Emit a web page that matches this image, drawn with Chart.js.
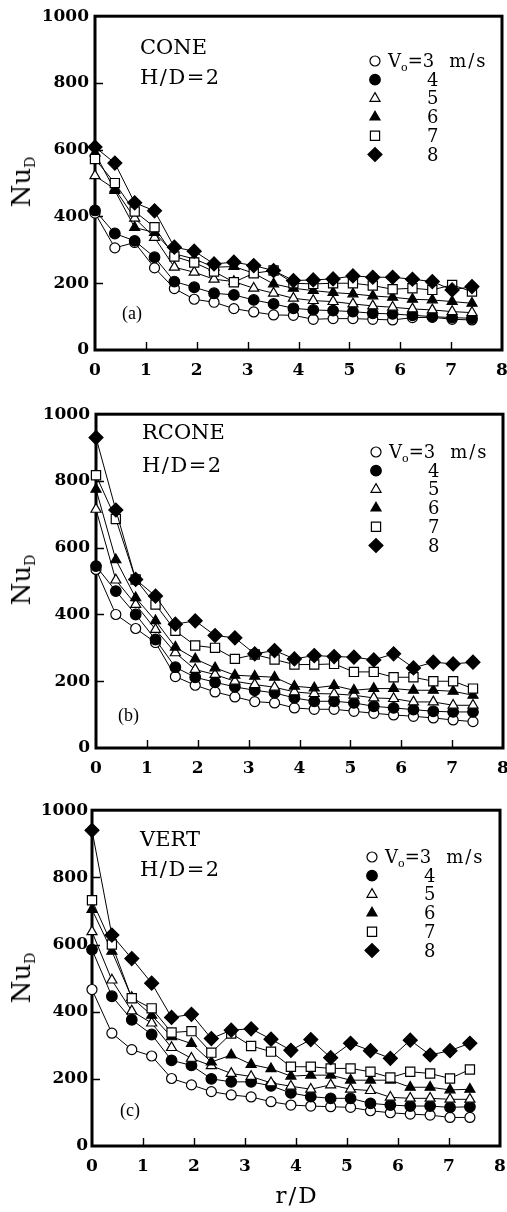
<!DOCTYPE html>
<html><head><meta charset="utf-8">
<script src="https://cdn.jsdelivr.net/npm/chart.js@4/dist/chart.umd.min.js"></script>
<style>
html,body{margin:0;padding:0;background:#fff;}
body{width:507px;height:1212px;overflow:hidden;position:relative;}
.panel{position:absolute;left:0;width:520px;height:390px;}
.panel canvas{position:absolute;left:0;top:0;}
.t{position:absolute;font-family:"DejaVu Serif",serif;color:#000;white-space:nowrap;line-height:1;}
.ttl{font-size:21px;}
.hd{font-size:21px;letter-spacing:1.5px;}
.lg{font-size:18px;}
.sub{font-size:11px;position:relative;top:4px;}
.ms{margin-left:15px;letter-spacing:2px;}
.lab{font-family:"Liberation Serif",serif;font-size:18px;}
.nu{font-size:26px;transform:translate(-50%,-50%) rotate(-90deg);}
.nu .s{font-size:14px;position:relative;top:5px;}
</style></head>
<body>
<div class="panel" id="pa" style="top:0px;"><canvas id="ca" width="520" height="390"></canvas></div>
<div class="panel" id="pb" style="top:398px;"><canvas id="cb" width="520" height="390"></canvas></div>
<div class="panel" id="pc" style="top:796px;"><canvas id="cc" width="520" height="390"></canvas></div>
<div class="t" style="left:297px;top:1184px;font-size:23px;letter-spacing:2px;transform:translateX(-50%);">r/D</div>
<script>
// ---- data ----
const R_D = [0, 0.39, 0.78, 1.17, 1.56, 1.95, 2.34, 2.73, 3.12, 3.51, 3.9, 4.29, 4.68, 5.07, 5.46, 5.85, 6.24, 6.63, 7.02, 7.41];
const SPEEDS = ['3', '4', '5', '6', '7', '8'];
const X_TICKS = [0, 1, 2, 3, 4, 5, 6, 7, 8];
const Y_TICKS = [0, 200, 400, 600, 800, 1000];
const PANEL_NAMES = ['CONE', 'RCONE', 'VERT'];
const PANEL_TAGS = ['(a)', '(b)', '(c)'];

const CONE_V3 = [410, 306, 322, 246, 184, 152, 143, 124, 114, 105, 104, 92, 94, 94, 92, 90, 97, 98, 92, 90];
const CONE_V4 = [418, 349, 327, 278, 205, 188, 170, 165, 150, 138, 125, 120, 118, 115, 110, 108, 104, 100, 97, 95];
const CONE_V5 = [522, 482, 395, 337, 248, 233, 212, 205, 185, 170, 155, 148, 145, 138, 132, 128, 123, 120, 115, 112];
const CONE_V6 = [590, 478, 367, 352, 288, 273, 248, 250, 230, 198, 185, 178, 172, 168, 162, 158, 152, 150, 145, 140];
const CONE_V7 = [572, 500, 415, 368, 280, 262, 235, 203, 230, 238, 200, 198, 200, 200, 193, 182, 185, 180, 195, 175];
const CONE_V8 = [608, 560, 441, 417, 308, 296, 258, 263, 253, 238, 208, 210, 213, 222, 218, 218, 212, 205, 180, 190];

const RCONE_V3 = [535, 400, 358, 316, 214, 188, 168, 153, 139, 135, 120, 116, 116, 110, 104, 99, 95, 90, 84, 79];
const RCONE_V4 = [545, 470, 400, 325, 242, 212, 197, 183, 173, 165, 150, 140, 140, 135, 125, 120, 115, 110, 108, 108];
const RCONE_V5 = [715, 503, 430, 355, 285, 235, 220, 200, 190, 182, 168, 163, 162, 158, 150, 148, 138, 138, 128, 128];
const RCONE_V6 = [775, 564, 450, 381, 302, 267, 240, 218, 215, 212, 185, 180, 187, 173, 178, 178, 173, 173, 170, 158];
const RCONE_V7 = [817, 686, 505, 430, 351, 307, 300, 267, 280, 265, 250, 250, 252, 228, 228, 212, 212, 200, 200, 178];
const RCONE_V8 = [930, 713, 505, 455, 371, 381, 337, 330, 282, 292, 267, 277, 274, 272, 264, 282, 240, 257, 252, 257];

const VERT_V3 = [466, 336, 287, 268, 201, 182, 162, 152, 146, 132, 122, 119, 117, 115, 105, 99, 95, 92, 85, 85];
const VERT_V4 = [585, 446, 376, 332, 255, 240, 200, 191, 191, 179, 158, 147, 142, 142, 127, 122, 119, 119, 115, 117];
const VERT_V5 = [638, 494, 402, 366, 293, 261, 239, 216, 207, 188, 178, 169, 182, 169, 165, 145, 142, 142, 139, 139];
const VERT_V6 = [704, 580, 442, 389, 325, 305, 250, 271, 243, 230, 208, 211, 211, 196, 196, 196, 175, 175, 167, 169];
const VERT_V7 = [732, 600, 440, 410, 338, 342, 278, 335, 298, 281, 236, 236, 231, 231, 221, 204, 221, 216, 201, 228];
const VERT_V8 = [940, 628, 558, 485, 383, 392, 320, 345, 349, 318, 285, 317, 263, 306, 284, 261, 315, 271, 284, 306];

// ---- styles ----
const MARKS = [
  {style: 'circle', filled: false, r: 5},
  {style: 'circle', filled: true, r: 5.3},
  {style: 'triangle', filled: false, r: 5.8},
  {style: 'triangle', filled: true, r: 5.8},
  {style: 'rect', filled: false, r: 6.5},
  {style: 'rectRot', filled: true, r: 7}
];
const GEO = [
  {canvas: 'ca', panel: 'pa', L: 95, R: 502, pad: 6, lgTop: 61, title: [140, 37], hd: [140, 67], tag: [122, 304]},
  {canvas: 'cb', panel: 'pb', L: 96, R: 503, pad: 6, lgTop: 54, title: [142, 24], hd: [142, 57], tag: [118, 308]},
  {canvas: 'cc', panel: 'pc', L: 92, R: 500, pad: 4, lgTop: 61, title: [140, 33], hd: [140, 63], tag: [120, 305]}
];
const LG_DX = 280, LG_STEP = 18.7;
const TICK_FONT = {family: '"DejaVu Serif", serif', size: 17, weight: 'bold'};

const framePlugin = {
  id: 'frame',
  beforeDatasetsDraw(chart) {
    const {ctx, chartArea: a, scales} = chart;
    ctx.save();
    ctx.strokeStyle = '#000';
    ctx.lineWidth = 1.4;
    ctx.beginPath();
    Y_TICKS.slice(1, -1).forEach(v => {
      const y = Math.round(scales.y.getPixelForValue(v)) + 0.5;
      ctx.moveTo(a.left, y); ctx.lineTo(a.left + 8, y);
    });
    X_TICKS.slice(1, -1).forEach(v => {
      const x = Math.round(scales.x.getPixelForValue(v)) + 0.5;
      ctx.moveTo(x, a.bottom); ctx.lineTo(x, a.bottom - 8);
    });
    ctx.stroke();
    ctx.lineWidth = 3;
    ctx.strokeRect(a.left, a.top, a.right - a.left, a.bottom - a.top);
    ctx.restore();
  }
};
const legendPlugin = {
  id: 'lgmarks',
  afterDraw(chart, args, opts) {
    const {ctx, chartArea: a} = chart;
    ctx.save();
    MARKS.forEach((m, i) => {
      ctx.fillStyle = m.filled ? '#000' : '#fff';
      ctx.strokeStyle = '#000';
      ctx.lineWidth = 1.2;
      Chart.helpers.drawPoint(ctx, {pointStyle: m.style, radius: m.r, rotation: 0, borderWidth: 1.2},
        a.left + LG_DX, opts.top + i * LG_STEP);
    });
    ctx.restore();
  }
};

function makePanel(p, series) {
  const g = GEO[p];
  new Chart(document.getElementById(g.canvas), {
    type: 'line',
    data: {
      datasets: series.map((vals, i) => ({
        label: SPEEDS[i],
        data: R_D.map((x, j) => ({x: x, y: vals[j]})),
        borderColor: '#000', borderWidth: 1, tension: 0, fill: false,
        pointStyle: MARKS[i].style, pointRadius: MARKS[i].r, pointBorderWidth: 1.2,
        pointBackgroundColor: MARKS[i].filled ? '#000' : '#fff', pointBorderColor: '#000',
        clip: false, order: 5 - i
      }))
    },
    options: {
      responsive: false, animation: false, devicePixelRatio: 1,
      layout: {padding: {left: 0, right: 520 - g.R, top: 14, bottom: 0}},
      plugins: {legend: {display: false}, tooltip: {enabled: false}, lgmarks: {top: g.lgTop}},
      scales: {
        x: {type: 'linear', min: 0, max: 8,
            afterBuildTicks(s) { s.ticks = X_TICKS.map(v => ({value: v})); },
            ticks: {font: TICK_FONT, color: '#000', padding: 10, maxRotation: 0, autoSkip: false,
                    callback: v => String(v)},
            grid: {display: false, drawTicks: false}, border: {display: false},
            afterFit(s) { s.height = 40; }},
        y: {type: 'linear', min: 0, max: 1000,
            afterBuildTicks(s) { s.ticks = Y_TICKS.map(v => ({value: v})); },
            ticks: {font: TICK_FONT, color: '#000', padding: g.pad, callback: v => String(v)},
            grid: {display: false, drawTicks: false}, border: {display: false},
            afterFit(s) { s.width = g.L; }}
      }
    },
    plugins: [framePlugin, legendPlugin]
  });
  // annotation texts
  const el = document.getElementById(g.panel);
  const add = (cls, x, y, html, style) => {
    const d = document.createElement('div');
    d.className = 't ' + cls;
    d.style.left = x + 'px'; d.style.top = y + 'px';
    if (style) d.style.cssText += style;
    d.innerHTML = html;
    el.appendChild(d);
  };
  add('ttl', g.title[0], g.title[1], PANEL_NAMES[p]);
  add('hd', g.hd[0], g.hd[1], 'H/D=2');
  add('lab', g.tag[0], g.tag[1], PANEL_TAGS[p]);
  add('nu', 21, 182, 'Nu<span class="s">D</span>');
  const lx = g.L + LG_DX;
  SPEEDS.forEach((s, i) => {
    const y = g.lgTop + i * LG_STEP - 9;
    if (i === 0) add('lg', lx + 13, y, 'V<span class="sub">o</span>=' + s + '<span class="ms">m/s</span>');
    else add('lg', lx + 52, y, s);
  });
}

makePanel(0, [CONE_V3, CONE_V4, CONE_V5, CONE_V6, CONE_V7, CONE_V8]);
makePanel(1, [RCONE_V3, RCONE_V4, RCONE_V5, RCONE_V6, RCONE_V7, RCONE_V8]);
makePanel(2, [VERT_V3, VERT_V4, VERT_V5, VERT_V6, VERT_V7, VERT_V8]);
</script>
</body></html>
